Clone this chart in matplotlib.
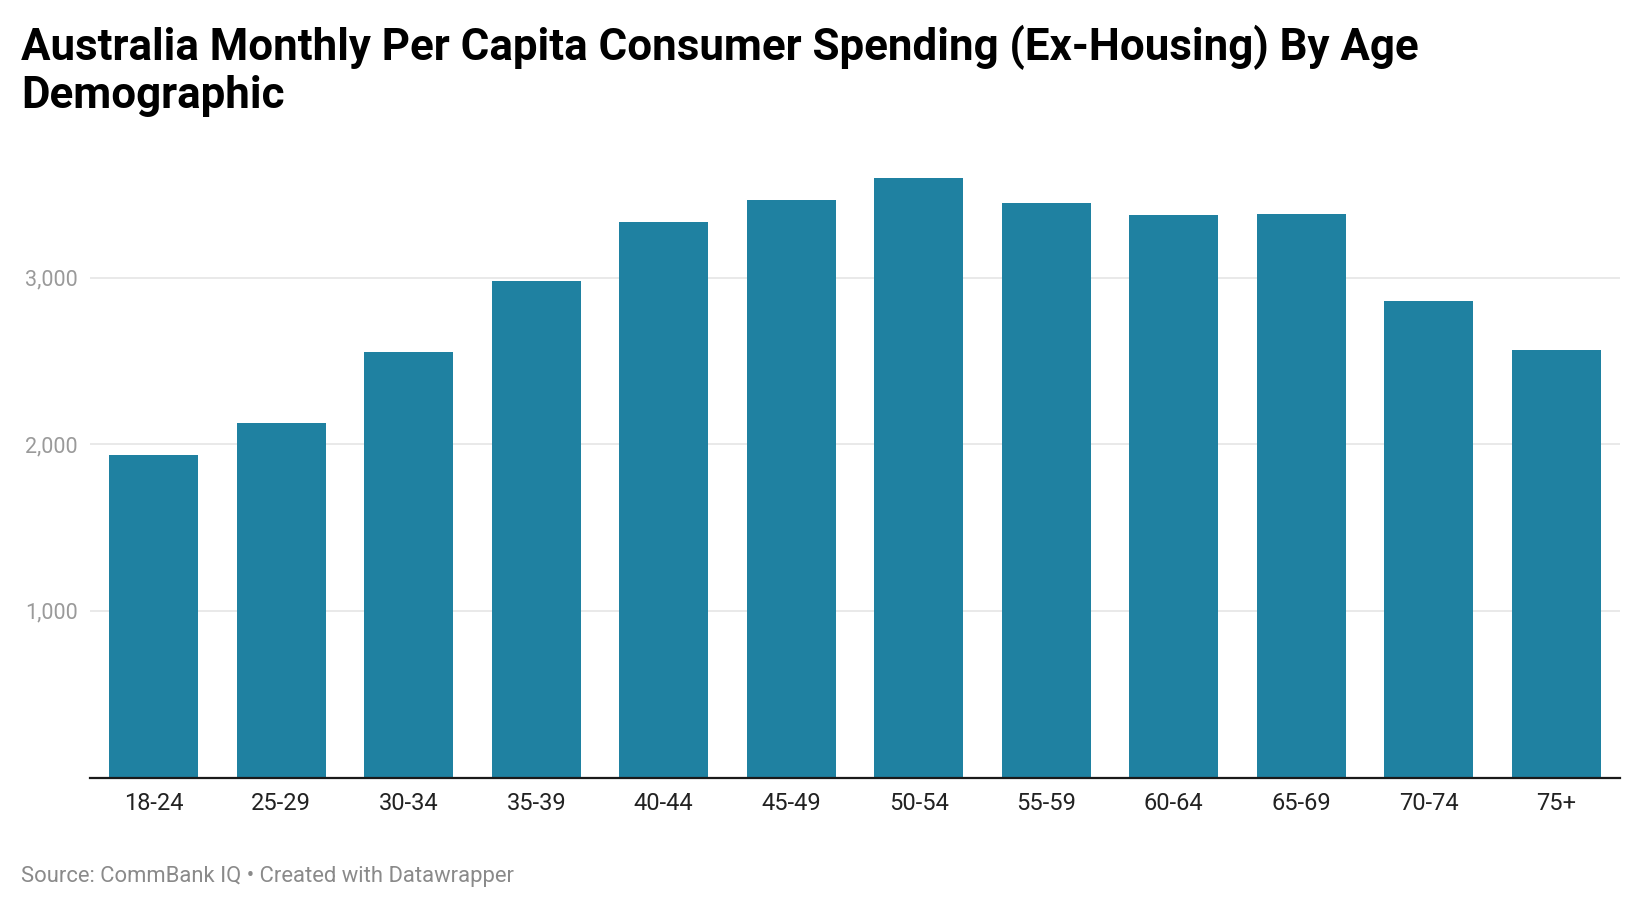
import matplotlib
matplotlib.use("Agg")
import matplotlib.pyplot as plt

categories = ["18-24", "25-29", "30-34", "35-39", "40-44", "45-49",
              "50-54", "55-59", "60-64", "65-69", "70-74", "75+"]
values = [1936, 2128, 2554, 2980, 3334, 3466, 3598, 3448, 3376, 3382, 2860, 2566]
yticks = [1000, 2000, 3000]
ytick_labels = ["1,000", "2,000", "3,000"]

title_lines = ["Australia Monthly Per Capita Consumer Spending (Ex-Housing) By Age",
               "Demographic"]
source = "Source: CommBank IQ • Created with Datawrapper"

plt.rcParams['font.family'] = ['Roboto', 'DejaVu Sans']

W, H = 1640, 908
fig = plt.figure(figsize=(W / 100, H / 100), dpi=100)
ax = fig.add_axes([90 / W, 1 - 777.5 / H, (1620 - 90) / W, (777.5 - 161) / H])

ax.bar(range(len(categories)), values, width=0.70, color="#1f81a1", zorder=3)
ax.set_xlim(-0.5, len(categories) - 0.5)
ax.set_ylim(0, 3700)

ax.set_yticks(yticks)
ax.set_yticklabels(ytick_labels)
ax.set_xticks(range(len(categories)))
ax.set_xticklabels(categories)

ax.grid(axis="y", color="#e3e3e3", linewidth=1.1, zorder=0)
ax.tick_params(axis="y", length=0, pad=8.6, labelsize=15.5, labelcolor="#9a9a9a")
ax.tick_params(axis="x", length=0, pad=10.6, labelsize=17, labelcolor="#222222")

for s in ["top", "right", "left"]:
    ax.spines[s].set_visible(False)
ax.spines["bottom"].set_color("#1a1a1a")
ax.spines["bottom"].set_linewidth(1.6)
ax.spines["bottom"].set_zorder(4)

for line, base in zip(title_lines, [60.0, 108.3]):
    fig.text(21 / W, 1 - base / H, line, ha="left", va="baseline", fontsize=31.55,
             fontweight="bold", color="#000000")
fig.text(21 / W, 1 - 881.7 / H, source, ha="left", va="baseline", fontsize=15.8,
         color="#8a8a8a")

fig.savefig("out.png", dpi=100, facecolor="white")
